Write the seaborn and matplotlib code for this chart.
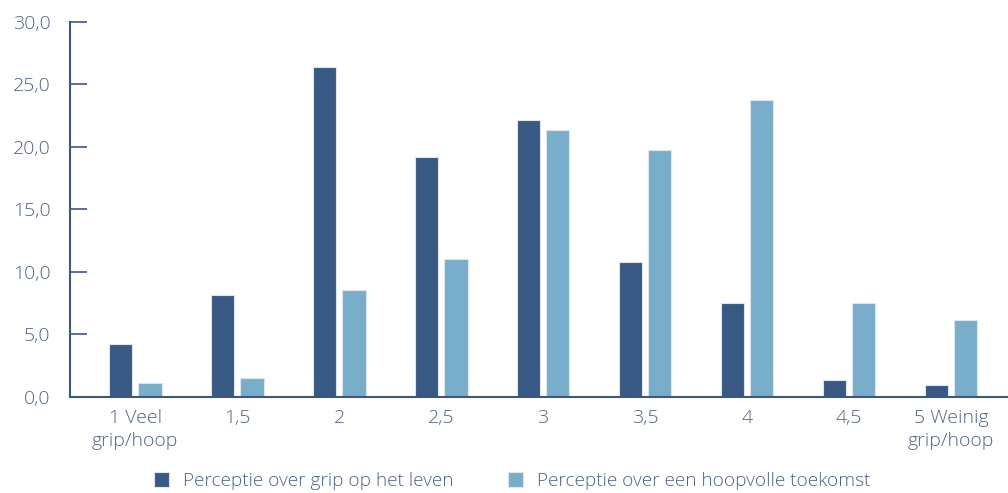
import matplotlib
matplotlib.use("Agg")
import matplotlib.pyplot as plt
import seaborn as sns
import pandas as pd

categories = ["1 Veel\ngrip/hoop", "1,5", "2", "2,5", "3", "3,5", "4", "4,5", "5 Weinig\ngrip/hoop"]
grip = [4.2, 8.1, 26.4, 19.2, 22.1, 10.8, 7.5, 1.3, 0.9]
hoop = [1.1, 1.5, 8.5, 11.0, 21.3, 19.7, 23.7, 7.5, 6.1]
series_names = ["Perceptie over grip op het leven", "Perceptie over een hoopvolle toekomst"]
yticks = [0, 5, 10, 15, 20, 25, 30]

df = pd.DataFrame({
    "cat": categories * 2,
    "val": grip + hoop,
    "serie": [series_names[0]] * len(categories) + [series_names[1]] * len(categories),
})

sns.set_style("white")
plt.rcParams["font.family"] = ["Open Sans", "DejaVu Sans"]
text_color = "#4d6385"
axis_color = "#3b5884"
palette = {series_names[0]: "#375983", series_names[1]: "#78aec9"}

fig = plt.figure(figsize=(10.08, 4.93), dpi=100)
ax = fig.add_axes([70 / 1008, 1 - 396.7 / 493, (1008 - 70) / 1008, (396.7 - 21.7) / 493])

sns.barplot(data=df, x="cat", y="val", hue="serie", palette=palette, order=categories,
            hue_order=series_names, width=0.575, gap=0.2, ax=ax, saturation=1,
            edgecolor="#dde6ee", linewidth=0.8, legend=True)

ax.set_ylim(0, 30)
ax.set_xlim(-0.64, 8.56)
ax.set_yticks(yticks)
ax.set_yticklabels([f"{v:.1f}".replace(".", ",") for v in yticks])
ax.set_xlabel("")
ax.set_ylabel("")

for s in ["top", "right"]:
    ax.spines[s].set_visible(False)
for s in ["left", "bottom"]:
    ax.spines[s].set_color(axis_color)
    ax.spines[s].set_linewidth(1.5)

ax.tick_params(axis="y", direction="in", length=12, width=1.2, color=axis_color,
               labelsize=14, labelcolor=text_color, pad=14, left=True)
ax.tick_params(axis="x", length=0, labelsize=14, labelcolor=text_color, pad=9)
for lbl in ax.get_xticklabels():
    lbl.set_linespacing(1.35)
for lbl in ax.get_yticklabels():
    lbl.set_fontweight("light")
for lbl in ax.get_xticklabels():
    lbl.set_fontweight("light")

handles, labels = ax.get_legend_handles_labels()
ax.get_legend().remove()
leg = fig.legend(handles, labels, loc="center", bbox_to_anchor=(0.508, 1 - 481 / 493),
                 ncol=2, frameon=False, fontsize=13.7, labelcolor=text_color,
                 handlelength=0.8, handleheight=0.8, handletextpad=0.7, columnspacing=2.9,
                 borderpad=0.2)
for t in leg.get_texts():
    t.set_fontweight("light")

fig.savefig("out.png", dpi=100)
